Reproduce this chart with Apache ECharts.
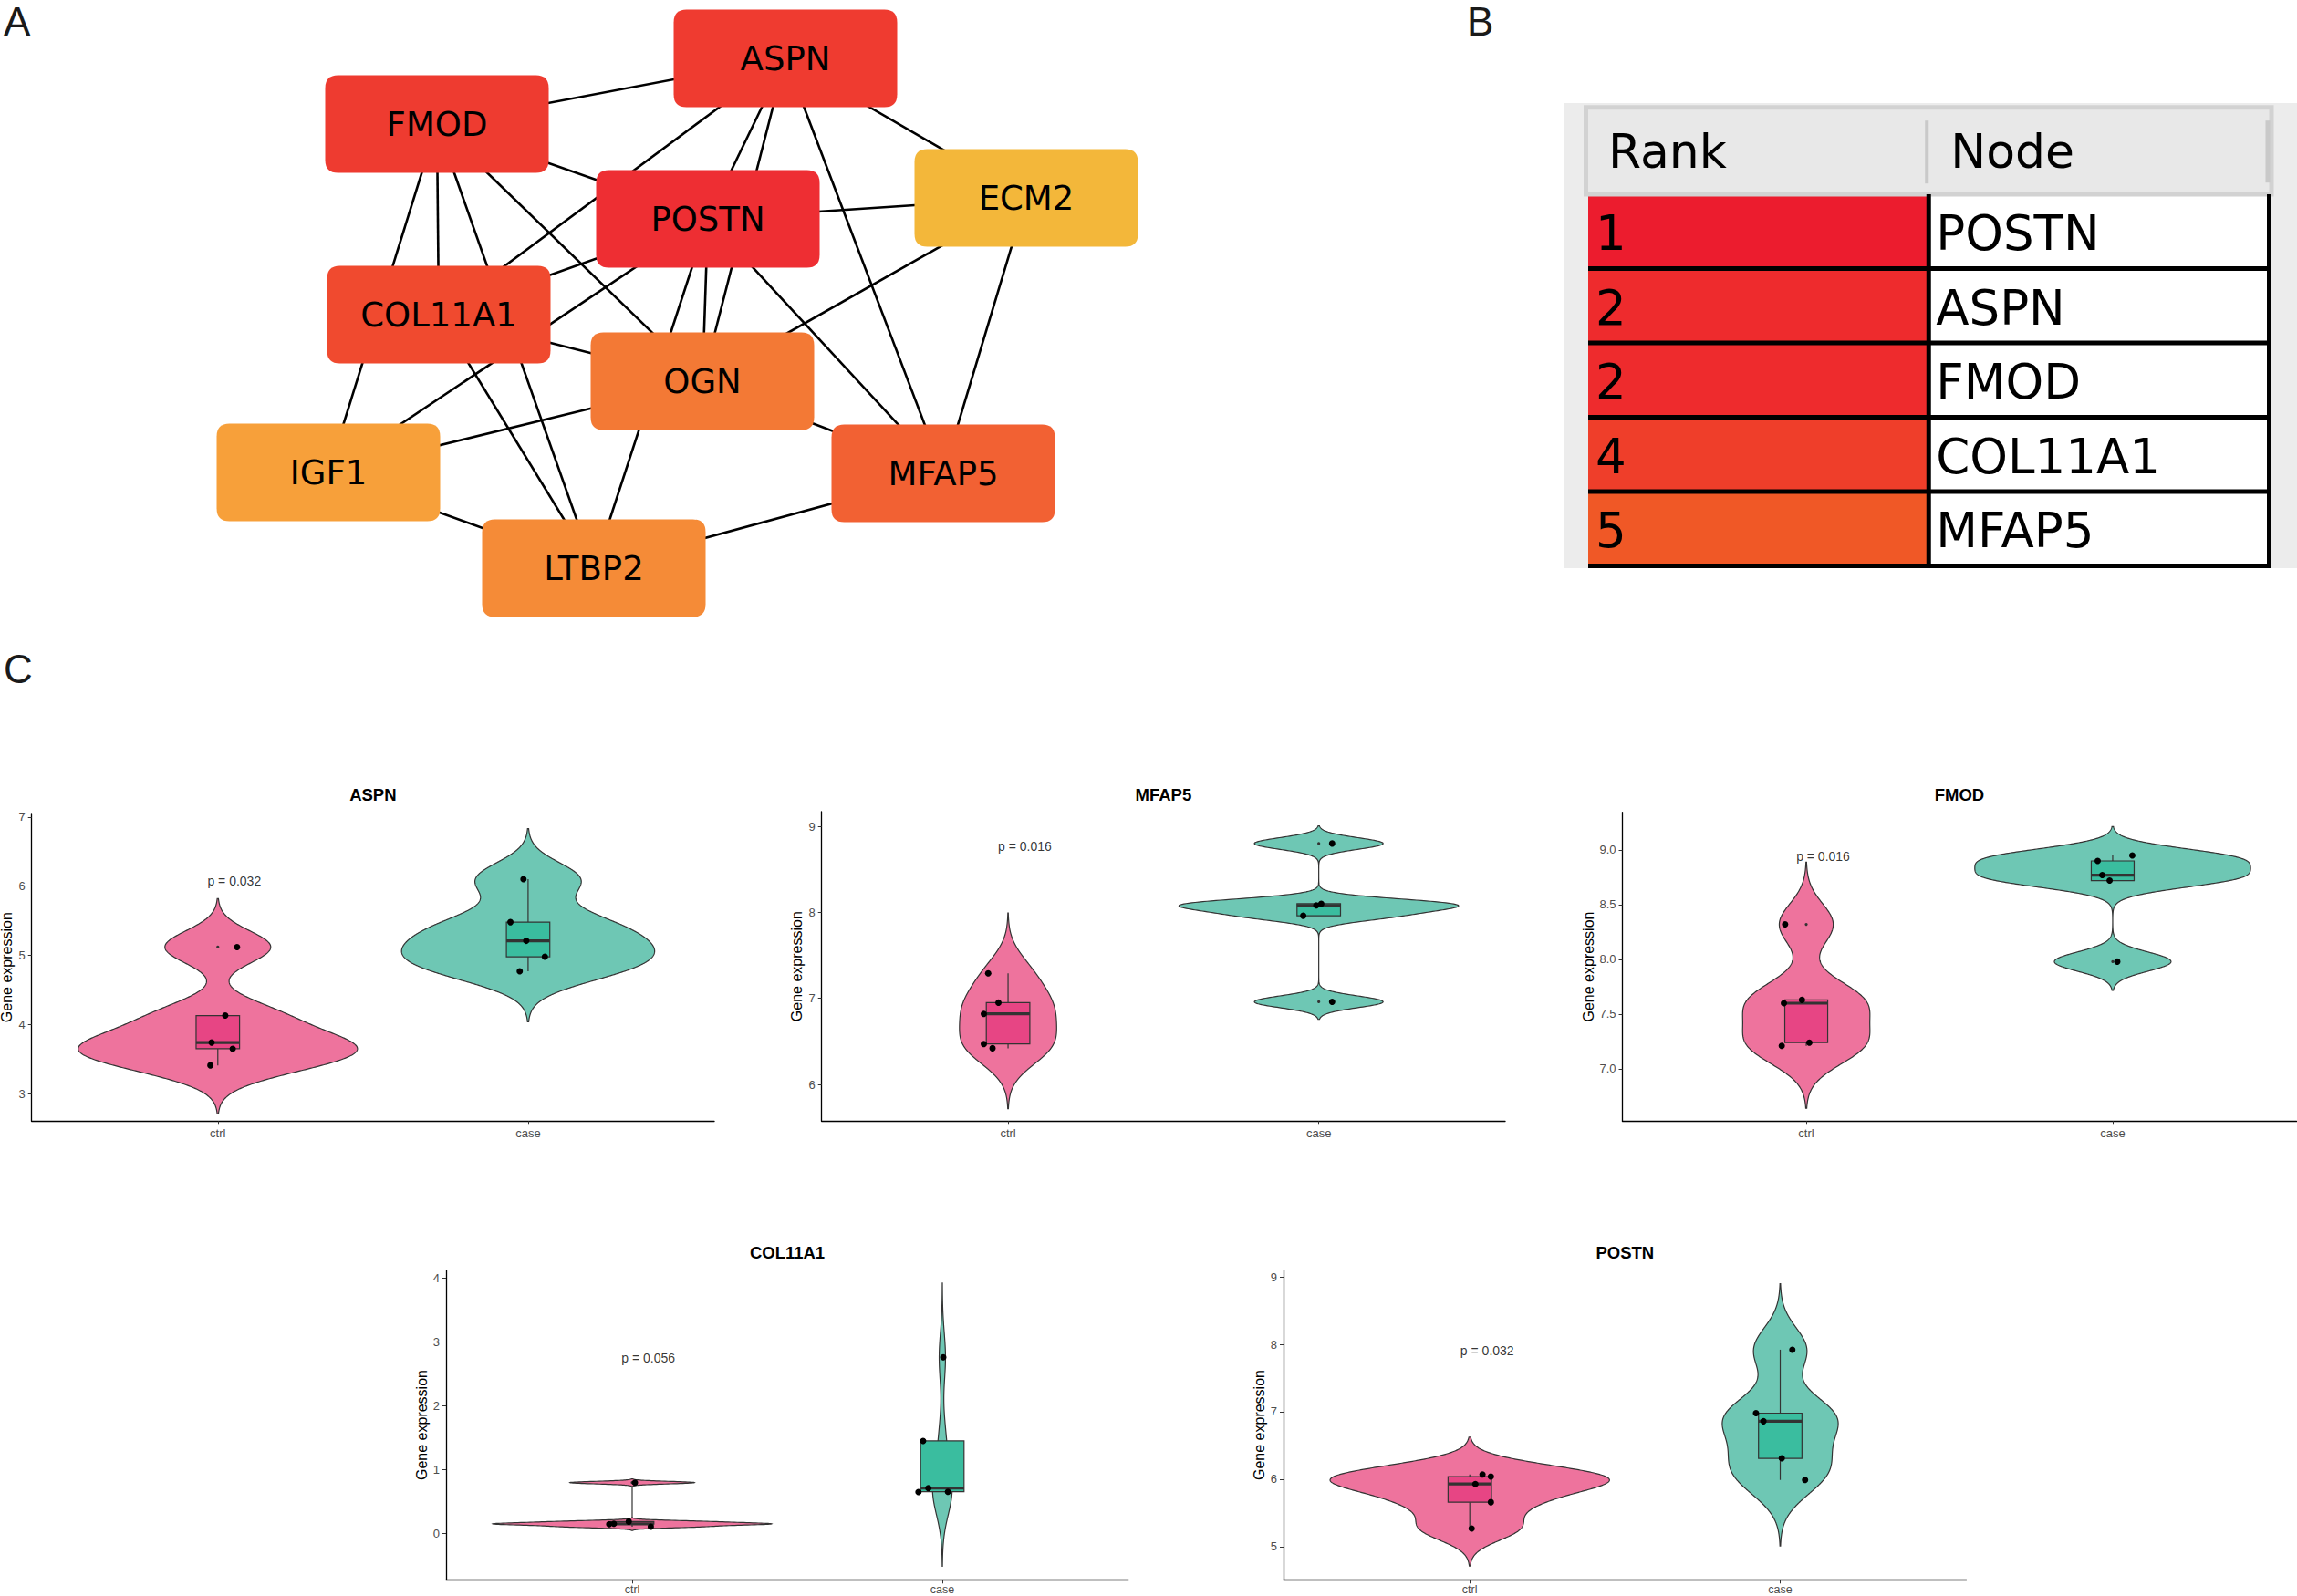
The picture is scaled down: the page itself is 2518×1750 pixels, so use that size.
<!DOCTYPE html>
<html><head><meta charset="utf-8">
<script src="https://cdn.jsdelivr.net/npm/echarts@6/dist/echarts.min.js"></script>
<style>html,body{margin:0;padding:0;background:#fff}#c{width:2518px;height:1750px}</style>
</head><body><div id="c"></div>
<script>
// ---------------- Panel A : network ----------------
const nodeNames  = ['ASPN','FMOD','POSTN','ECM2','COL11A1','OGN','IGF1','MFAP5','LTBP2'];
const nodeX      = [861, 479, 776, 1125, 481, 770, 360, 1034, 651];
const nodeY      = [64, 136, 240, 217, 345, 418, 518, 519, 623];
const nodeColors = ['#EF3B30','#EE3B30','#EE2E33','#F3B73A','#F04A2F','#F37935','#F7A03A','#F26133','#F58B37'];
const edgeSource = ['FMOD','ASPN','ASPN','ASPN','ASPN','ASPN','POSTN','POSTN','POSTN','POSTN','FMOD','FMOD','FMOD','FMOD','FMOD','COL11A1','IGF1','COL11A1','COL11A1','IGF1','IGF1','OGN','OGN','ECM2','MFAP5'];
const edgeTarget = ['ASPN','COL11A1','POSTN','OGN','MFAP5','ECM2','ECM2','OGN','LTBP2','MFAP5','POSTN','OGN','IGF1','COL11A1','LTBP2','POSTN','POSTN','OGN','LTBP2','OGN','LTBP2','MFAP5','ECM2','MFAP5','LTBP2'];

// ---------------- Panel B : table ----------------
const tableHeader = ['Rank','Node'];
const tableRanks  = ['1','2','2','4','5'];
const tableNodes  = ['POSTN','ASPN','FMOD','COL11A1','MFAP5'];
const tableColors = ['#EC1C2E','#EE2B2D','#EE2B2D','#EF3E2A','#F05826'];

// ---------------- Panel C : violins ----------------
const groups     = ['ctrl','case'];
const plotGenes  = ['ASPN','MFAP5','FMOD','COL11A1','POSTN'];
const pLabels    = ['p = 0.032','p = 0.016','p = 0.016','p = 0.056','p = 0.032'];
const pLabelX    = [1.053, 1.054, 1.055, 1.052, 1.056];
const pLabelY    = [6.08, 8.77, 8.94, 2.75, 7.905];
const yMins      = [2.604, 5.573, 6.5225, -0.723, 4.509];
const yMaxs      = [7.05, 9.17, 9.344, 4.128, 9.099];
const yTicks     = [[3,4,5,6,7],[6,7,8,9],[7,7.5,8,8.5,9],[0,1,2,3,4],[5,6,7,8,9]];
const yTickDec   = [0,0,1,0,0];

const aspnCtrl    = [3.41, 3.65, 3.74, 4.13, 5.12];
const aspnCase    = [4.77, 4.98, 5.21, 5.48, 6.10];
const mfap5Ctrl   = [6.42, 6.47, 6.82, 6.95, 7.29];
const mfap5Case   = [6.96, 7.96, 8.08, 8.10, 8.80];
const fmodCtrl    = [7.21, 7.24, 7.60, 7.63, 8.32];
const fmodCase    = [7.98, 8.72, 8.77, 8.90, 8.95];
const col11a1Ctrl = [0.11, 0.15, 0.155, 0.19, 0.80];
const col11a1Case = [0.653, 0.657, 0.714, 1.453, 2.763];
const postnCtrl   = [5.27, 5.66, 5.93, 6.04, 6.07];
const postnCase   = [5.99, 6.31, 6.86, 6.98, 7.92];

// horizontal jitter of the plotted points (category units)
const aspnCtrlJit    = [-0.024, 0.048, -0.020, 0.024, 0.062];
const aspnCaseJit    = [-0.027, 0.054, -0.006, -0.057, -0.015];
const mfap5CtrlJit   = [-0.050, -0.078, -0.078, -0.031, -0.064];
const mfap5CaseJit   = [0.043, -0.050, -0.008, 0.008, 0.043];
const fmodCtrlJit    = [-0.080, 0.010, -0.073, -0.014, -0.069];
const fmodCaseJit    = [0.015, -0.010, -0.034, -0.049, 0.064];
const col11a1CtrlJit = [0.060, -0.074, -0.059, -0.011, 0.009];
const col11a1CaseJit = [-0.077, 0.018, -0.045, -0.062, 0.003];
const postnCtrlJit   = [0.006, 0.068, 0.018, 0.068, 0.041];
const postnCaseJit   = [0.080, 0.005, -0.054, -0.078, 0.039];

const groupValues = [[aspnCtrl,aspnCase],[mfap5Ctrl,mfap5Case],[fmodCtrl,fmodCase],[col11a1Ctrl,col11a1Case],[postnCtrl,postnCase]];
const groupJitter = [[aspnCtrlJit,aspnCaseJit],[mfap5CtrlJit,mfap5CaseJit],[fmodCtrlJit,fmodCaseJit],[col11a1CtrlJit,col11a1CaseJit],[postnCtrlJit,postnCaseJit]];

// layout (pixels)
const gridBoxes = [
  {left:34.7,  top:892,    width:748.3, height:337.3},
  {left:900.7, top:890,    width:749.3, height:339.3},
  {left:1778.5,top:890.7,  width:739,   height:338.6},
  {left:489,   top:1392.7, width:748,   height:339.6},
  {left:1407,  top:1392.7, width:748.7, height:339.6}
];
const violinFill = ['#EE739D','#6EC7B4'];
const boxFill    = ['#E74584','#3ABD9F'];
const inkColor   = '#333333';
const FONT = "'Liberation Sans', Arial, sans-serif";
const NFONT = "'DejaVu Sans', Verdana, sans-serif";

// ---- statistics (same recipe as ggplot2 geom_violin / geom_boxplot) ----
function q7(s, p){ const h=(s.length-1)*p, lo=Math.floor(h), hi=Math.ceil(h); return s[lo]+(h-lo)*(s[hi]-s[lo]); }
function sdev(a){ const m=a.reduce((x,y)=>x+y,0)/a.length; return Math.sqrt(a.reduce((t,v)=>t+(v-m)*(v-m),0)/(a.length-1)); }
function bwNrd0(a){ const s=a.slice().sort((x,y)=>x-y); let lo=Math.min(sdev(a),(q7(s,.75)-q7(s,.25))/1.34); if(!(lo>0)) lo=sdev(a)||1; return 0.9*lo*Math.pow(a.length,-0.2); }
function kde(a){
  const bw=bwNrd0(a), mn=Math.min(...a)-3*bw, mx=Math.max(...a)+3*bw, n=512, ys=[], ds=[];
  for(let i=0;i<n;i++){ const y=mn+(mx-mn)*i/(n-1); let d=0; for(const v of a){ const z=(y-v)/bw; d+=Math.exp(-0.5*z*z); } ys.push(y); ds.push(d/(a.length*bw*Math.sqrt(2*Math.PI))); }
  return {ys, ds};
}
function boxStats(a){
  const s=a.slice().sort((x,y)=>x-y), q1=q7(s,.25), med=q7(s,.5), q3=q7(s,.75), iqr=q3-q1;
  const lf=q1-1.5*iqr, hf=q3+1.5*iqr, inside=s.filter(v=>v>=lf&&v<=hf);
  return {q1, med, q3, wlo:Math.min(...inside), whi:Math.max(...inside), out:s.filter(v=>v<lf||v>hf)};
}

const series = [], grids = [], xAxes = [], yAxes = [], titles = [];

plotGenes.forEach((gene, k) => {
  const gb = gridBoxes[k];
  const bottomRow = k >= 3;
  grids.push(Object.assign({containLabel:false, outerBoundsMode:'none'}, gb));
  xAxes.push({type:'value', gridIndex:k, min:0.4, max:2.6, splitLine:{show:false},
    axisLine:{show:true, onZero:false, lineStyle:{color:'#000', width:1.3}},
    axisTick:{show:true, customValues:[1,2], length:4, lineStyle:{color:'#333', width:1}},
    axisLabel:{show:true, customValues:[1,2], formatter:v=>groups[Math.round(v)-1], color:'#4D4D4D',
      fontSize:bottomRow?12.5:13, margin:bottomRow?4:7, fontFamily:FONT}});
  yAxes.push({type:'value', gridIndex:k, min:yMins[k], max:yMaxs[k], splitLine:{show:false},
    axisLine:{show:true, onZero:false, lineStyle:{color:'#000', width:1.3}},
    axisTick:{show:true, customValues:yTicks[k], length:4, lineStyle:{color:'#333', width:1}},
    axisLabel:{show:true, customValues:yTicks[k], formatter:v=>Number(v).toFixed(yTickDec[k]), color:'#4D4D4D', fontSize:13, margin:7, fontFamily:FONT},
    name:'Gene expression', nameLocation:'middle', nameGap:19, nameRotate:90,
    nameTextStyle:{color:'#000', fontSize:16, fontFamily:FONT}});
  titles.push({text:gene, left:gb.left+gb.width/2, top:(k<3?862:1364), textAlign:'center', padding:0,
    textStyle:{fontSize:18.5, fontWeight:'bold', color:'#000', fontFamily:FONT}});

  const vals = groupValues[k];
  const dens = vals.map(kde);
  const maxD = Math.max(...dens.map(d=>Math.max(...d.ds)));
  const stats = vals.map(boxStats);

  series.push({
    type:'custom', xAxisIndex:k, yAxisIndex:k, silent:true, z:2,
    data: stats.map((s,g)=>[g+1, s.med]),
    renderItem(params, api){
      const g=params.dataIndex, xc=g+1, d=dens[g], st=stats[g];
      const right=[], left=[];
      for(let i=0;i<d.ys.length;i++){
        const hw=0.45*d.ds[i]/maxD;
        right.push(api.coord([xc+hw, d.ys[i]]));
        left.push(api.coord([xc-hw, d.ys[i]]));
      }
      const pts=right.concat(left.reverse());
      const bw=0.07;
      const pA=api.coord([xc-bw, st.q3]), pB=api.coord([xc+bw, st.q1]);
      const cLo=api.coord([xc, st.wlo]), cQ1=api.coord([xc, st.q1]), cQ3=api.coord([xc, st.q3]), cHi=api.coord([xc, st.whi]);
      const mL=api.coord([xc-bw, st.med]), mR=api.coord([xc+bw, st.med]);
      const children=[
        {type:'polygon', shape:{points:pts}, style:{fill:violinFill[g], stroke:inkColor, lineWidth:1.2}},
        {type:'line', shape:{x1:cQ1[0], y1:cQ1[1], x2:cLo[0], y2:cLo[1]}, style:{stroke:inkColor, lineWidth:1.2}},
        {type:'line', shape:{x1:cQ3[0], y1:cQ3[1], x2:cHi[0], y2:cHi[1]}, style:{stroke:inkColor, lineWidth:1.2}},
        {type:'rect', shape:{x:pA[0], y:pA[1], width:pB[0]-pA[0], height:pB[1]-pA[1]}, style:{fill:boxFill[g], stroke:inkColor, lineWidth:1.2}},
        {type:'line', shape:{x1:mL[0], y1:mL[1], x2:mR[0], y2:mR[1]}, style:{stroke:inkColor, lineWidth:3.2}}
      ];
      st.out.forEach(o=>{ const c=api.coord([xc,o]); children.push({type:'circle', shape:{cx:c[0], cy:c[1], r:1.6}, style:{fill:inkColor}}); });
      return {type:'group', children};
    }
  });

  const pts=[];
  vals.forEach((arr,g)=>arr.forEach((v,i)=>pts.push([g+1+groupJitter[k][g][i], v])));
  series.push({type:'scatter', xAxisIndex:k, yAxisIndex:k, silent:true, z:4, symbol:'circle', symbolSize:7,
    itemStyle:{color:'#000', opacity:1}, data:pts});

  series.push({type:'scatter', xAxisIndex:k, yAxisIndex:k, silent:true, z:5, symbolSize:1,
    itemStyle:{color:'rgba(0,0,0,0)'}, data:[[pLabelX[k], pLabelY[k]]],
    label:{show:true, position:'inside', formatter:pLabels[k], color:'#000', fontSize:14, fontFamily:FONT}});
});

// network grid (index 5) : 1 unit = 1 px
grids.push({left:0, top:0, width:1290, height:700, containLabel:false, outerBoundsMode:'none'});
xAxes.push({type:'value', gridIndex:5, min:0, max:1290, show:false});
yAxes.push({type:'value', gridIndex:5, min:0, max:700, inverse:true, show:false});
series.push({
  type:'graph', coordinateSystem:'cartesian2d', xAxisIndex:5, yAxisIndex:5, silent:true, z:3,
  symbol:'path://M14 0L231 0Q245 0 245 14L245 93Q245 107 231 107L14 107Q0 107 0 93L0 14Q0 0 14 0Z',
  symbolSize:[245,107],
  data: nodeNames.map((n,i)=>({name:n, value:[nodeX[i], nodeY[i]], itemStyle:{color:nodeColors[i], opacity:1}})),
  links: edgeSource.map((s,i)=>({source:s, target:edgeTarget[i]})),
  lineStyle:{color:'#000', width:2.6, opacity:1, curveness:0},
  label:{show:true, position:'inside', color:'#000', fontSize:37, fontFamily:NFONT},
  emphasis:{disabled:true}
});

// table grid (index 6)
grids.push({left:1741, top:115.2, width:746.5, height:505.3, containLabel:false, outerBoundsMode:'none'});
xAxes.push({type:'value', gridIndex:6, min:0, max:2, show:false});
yAxes.push({type:'value', gridIndex:6, min:-1.2, max:5, inverse:true, show:false});
const TFONT = "'DejaVu Sans', Verdana, sans-serif";
series.push({
  type:'custom', xAxisIndex:6, yAxisIndex:6, silent:true, z:2, clip:false,
  data: tableRanks.map((r,i)=>[0.5, i+0.5]).concat([[0.5,-0.6]]),
  renderItem(params, api){
    const i=params.dataIndex;
    const x0=api.coord([0,0])[0], x1=api.coord([1,0])[0], x2=api.coord([2,0])[0];
    if(i===tableRanks.length){
      const yt=api.coord([0,-1.2])[1], yb=api.coord([0,0])[1];
      return {type:'group', children:[
        {type:'rect', shape:{x:x0-2.5, y:yt+2.5, width:x2-x0+5, height:yb-yt-2.5}, style:{fill:'#E8E8E8', stroke:'#D2D2D2', lineWidth:5}},
        {type:'rect', shape:{x:x1-4, y:yt+17, width:4, height:69}, style:{fill:'#C9C9C9'}},
        {type:'rect', shape:{x:x2-4, y:yt+17, width:5, height:68}, style:{fill:'#C9C9C9'}},
        {type:'text', style:{text:tableHeader[0], x:x0+22, y:(yt+yb)/2+2, verticalAlign:'middle', align:'left', fontSize:52, fontFamily:TFONT, fill:'#000'}},
        {type:'text', style:{text:tableHeader[1], x:x1+24, y:(yt+yb)/2+2, verticalAlign:'middle', align:'left', fontSize:52, fontFamily:TFONT, fill:'#000'}}
      ]};
    }
    const yt=api.coord([0,i])[1], yb=api.coord([0,i+1])[1];
    return {type:'group', children:[
      {type:'rect', z2:0, shape:{x:x0, y:yt, width:x1-x0, height:yb-yt}, style:{fill:tableColors[i]}},
      {type:'rect', z2:0, shape:{x:x1, y:yt, width:x2-x1, height:yb-yt}, style:{fill:'#FFFFFF'}},
      {type:'line', z2:10, shape:{x1:x0, y1:yb, x2:x2+2.5, y2:yb}, style:{stroke:'#000', lineWidth:5}},
      {type:'line', z2:10, shape:{x1:x1, y1:yt, x2:x1, y2:yb}, style:{stroke:'#000', lineWidth:5}},
      {type:'line', z2:10, shape:{x1:x2, y1:yt, x2:x2, y2:yb}, style:{stroke:'#000', lineWidth:5}},
      {type:'text', z2:12, style:{text:tableRanks[i], x:x0+8, y:(yt+yb)/2+2, verticalAlign:'middle', align:'left', fontSize:53, fontFamily:TFONT, fill:'#000'}},
      {type:'text', z2:12, style:{text:tableNodes[i], x:x1+8, y:(yt+yb)/2+2, verticalAlign:'middle', align:'left', fontSize:53, fontFamily:TFONT, fill:'#000'}}
    ]};
  }
});

// panel letters
titles.push({text:'A', left:4, top:1, padding:0, textStyle:{fontSize:44, fontWeight:'normal', color:'#1A1A1A', fontFamily:FONT}});
titles.push({text:'B', left:1608, top:1, padding:0, textStyle:{fontSize:44, fontWeight:'normal', color:'#1A1A1A', fontFamily:FONT}});
titles.push({text:'C', left:4, top:711, padding:0, textStyle:{fontSize:44, fontWeight:'normal', color:'#1A1A1A', fontFamily:FONT}});

const chart = echarts.init(document.getElementById('c'), null, {renderer:'svg', width:2518, height:1750});
chart.setOption({
  animation:false,
  backgroundColor:'#FFFFFF',
  textStyle:{fontFamily:FONT},
  title:titles,
  graphic:[{type:'rect', z:-10, shape:{x:1715, y:113, width:803, height:510}, style:{fill:'#ECECEC'}}],
  grid:grids, xAxis:xAxes, yAxis:yAxes, series:series
});
</script></body></html>
